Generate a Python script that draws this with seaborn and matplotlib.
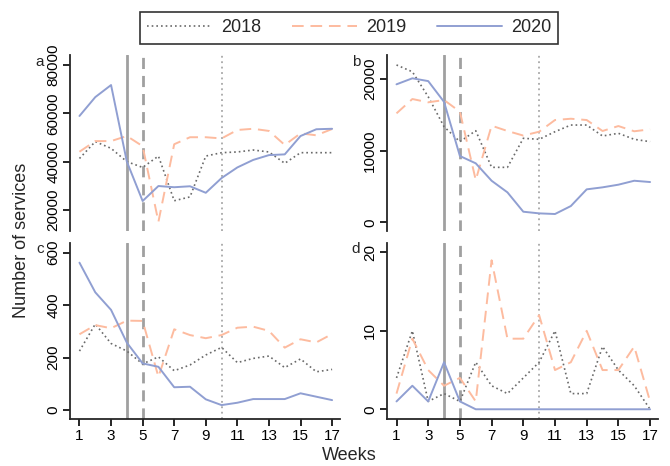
import matplotlib
matplotlib.use("Agg")
import matplotlib.pyplot as plt
import pandas as pd
import seaborn as sns

weeks = list(range(1, 18))
years = ["2018", "2019", "2020"]

# panel a
a_2018 = [41300, 48300, 45500, 40000, 37600, 42300, 23800, 25400, 42300,
          43700, 44000, 44800, 44000, 39300, 43700, 43700, 43700]
a_2019 = [44100, 48500, 48500, 50600, 46400, 15100, 47200, 50100, 50100,
          49600, 53100, 53600, 52700, 46900, 51700, 50900, 53500]
a_2020 = [58900, 66700, 71700, 40000, 23700, 29900, 29400, 29800, 27100,
          33200, 37600, 40700, 42700, 43000, 50600, 53400, 53600]

# panel b
b_2018 = [21950, 21000, 17520, 13340, 11250, 12780, 7670, 7670, 11720,
          11580, 12640, 13570, 13570, 12040, 12420, 11580, 11250]
b_2019 = [15200, 17200, 16740, 17060, 15430, 5900, 13480, 12740, 12100,
          12640, 14270, 14450, 14270, 12740, 13430, 12700, 12970]
b_2020 = [19250, 20090, 19700, 16800, 9250, 8230, 5800, 4180, 1480,
          1250, 1160, 2270, 4600, 4880, 5250, 5800, 5620]

# panel c
c_2018 = [225, 328, 254, 225, 176, 203, 150, 172, 210,
          239, 181, 197, 206, 162, 195, 146, 155]
c_2019 = [289, 324, 312, 341, 340, 127, 308, 286, 274,
          286, 314, 318, 302, 238, 270, 258, 290]
c_2020 = [562, 449, 382, 257, 178, 165, 87, 89, 41,
          19, 28, 42, 42, 42, 64, 51, 38]

# panel d
d_2018 = [4, 10, 1, 2, 1, 6, 3, 2, 4, 6, 10, 2, 2, 8, 5, 3, 0]
d_2019 = [2, 9, 5, 3, 4, 1, 19, 9, 9, 12, 5, 6, 10, 5, 5, 8, 1]
d_2020 = [1, 3, 1, 6, 1, 0, 0, 0, 0, 0, 0, 0, 0, 0, 0, 0, 0]

sns.set_style("ticks")
plt.rcParams["font.family"] = ["Liberation Sans", "DejaVu Sans"]

colors = {"2018": "#6a6a6a", "2019": "#fdbb9f", "2020": "#909fd2"}
dashes = {"2018": (1, 1.8), "2019": (6, 3.5), "2020": ""}
widths = {"2018": 1.2, "2019": 1.4, "2020": 1.4}

panels = [
    ("a", [a_2018, a_2019, a_2020], (11280, 84140), [20000, 40000, 60000, 80000]),
    ("b", [b_2018, b_2019, b_2020], (-1210, 23340), [0, 10000, 20000]),
    ("c", [c_2018, c_2019, c_2020], (-34, 637), [0, 200, 400, 600]),
    ("d", [d_2018, d_2019, d_2020], (-1.24, 21.2), [0, 10, 20]),
]

W, H = 670, 466
fig = plt.figure(figsize=(W / 100, H / 100), dpi=100)
boxes = {
    "a": (70, 340, 55, 231),
    "b": (387, 658, 55, 231),
    "c": (70, 340, 243, 419),
    "d": (387, 658, 243, 419),
}
label_pos = {"a": (40, 66), "b": (356, 66), "c": (40, 253), "d": (356, 253)}

for name, series, ylim, yticks in panels:
    x0, x1, y0, y1 = boxes[name]
    ax = fig.add_axes([x0 / W, 1 - y1 / H, (x1 - x0) / W, (y1 - y0) / H])
    df = pd.DataFrame({
        "week": weeks * 3,
        "value": series[0] + series[1] + series[2],
        "year": [y for y in years for _ in weeks],
    })
    ax.axvline(4, color="#a0a0a0", lw=2, zorder=1)
    ax.axvline(5, color="#a0a0a0", lw=2, ls=(0, (4, 2.5)), zorder=1)
    ax.axvline(10, color="#a8a8a8", lw=1.3, ls=(0, (1, 2)), zorder=1)
    sns.lineplot(data=df, x="week", y="value", hue="year", style="year",
                 size="year", sizes=widths,
                 palette=colors, dashes=dashes, legend=False, ax=ax)
    ax.set_xlim(0.4, 17.5)
    ax.set_ylim(*ylim)
    ax.set_yticks(yticks)
    ax.set_yticklabels([str(t) for t in yticks], rotation=90, va="center",
                       fontsize=11)
    ax.set_xlabel("")
    ax.set_ylabel("")
    for s in ["top", "right"]:
        ax.spines[s].set_visible(False)
    ax.spines["left"].set_linewidth(1.3)
    ax.spines["bottom"].set_linewidth(1.3)
    ax.tick_params(axis="both", direction="out", length=5, width=1.2,
                   colors="black", pad=2)
    if name in ("a", "b"):
        ax.spines["bottom"].set_visible(False)
        ax.set_xticks([])
    else:
        ax.set_xticks(list(range(1, 18, 2)))
        ax.set_xticklabels([str(t) for t in range(1, 18, 2)], fontsize=11)
    lx, ly = label_pos[name]
    fig.text(lx / W, 1 - ly / H, name, fontsize=11, ha="center")

fig.text(22 / W, 1 - 240 / H, "Number of services", rotation=90,
         ha="center", va="center", fontsize=13)
fig.text(349 / W, 1 - 455 / H, "Weeks", ha="center", va="center", fontsize=13)

handles = []
for y in years:
    ls = (0, dashes[y]) if dashes[y] else "-"
    handles.append(plt.Line2D([], [], color=colors[y], lw=widths[y], ls=ls))
leg = fig.legend(handles, years, loc="center", ncol=3,
                 bbox_to_anchor=(349 / W, 1 - 28 / H), frameon=True,
                 fontsize=13, handlelength=3.6, handletextpad=0.5,
                 columnspacing=1.7, fancybox=False, edgecolor="black",
                 borderpad=0.4)
leg.get_frame().set_linewidth(1.2)

fig.savefig("out.png", dpi=100)
